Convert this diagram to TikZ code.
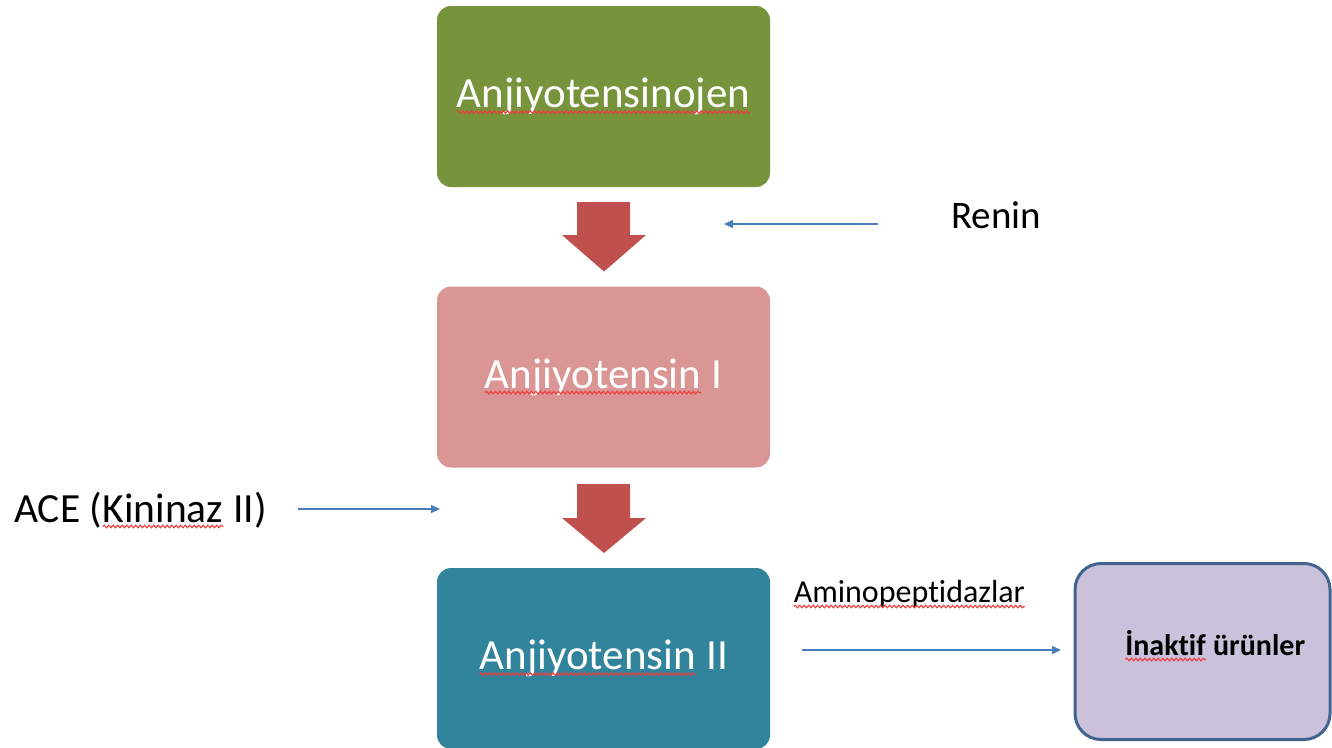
\documentclass[tikz,border=0pt]{standalone}
\usepackage{fontspec}
\setmainfont[Ligatures=NoCommon]{Carlito}
\usetikzlibrary{decorations.pathmorphing,arrows.meta}
\definecolor{cgreen}{HTML}{77933C}
\definecolor{cpink}{HTML}{D99694}
\definecolor{cteal}{HTML}{31849B}
\definecolor{cpurple}{HTML}{CCC1DA}
\definecolor{cborder}{HTML}{41648F}
\definecolor{cred}{HTML}{C0504D}
\definecolor{cblue}{HTML}{4A7EBB}
\definecolor{csquig}{HTML}{F03C3C}
\newcommand{\squig}[1]{\tikz[baseline=(w.base)]{\node[shape=rectangle,inner sep=0pt,outer sep=0pt,minimum width=0pt,minimum height=0pt,draw=none,fill=none,sharp corners](w){#1};\draw[csquig,sharp corners,line width=1.1pt,decorate,decoration={snake,amplitude=1.3pt,segment length=4.5pt}]([yshift=-4.5pt]w.base west)--([yshift=-4.5pt]w.base east);}}
\tikzset{
  box/.style={rounded corners=14pt, minimum width=333pt, minimum height=181pt, inner sep=0pt, text=white, font=\fontsize{43}{50}\selectfont},
  lbl/.style={inner sep=0pt, text=black},
  thin/.style={cblue, line width=1.4pt, -{Triangle[length=9pt,width=8pt]}},
  blockarrow/.style={fill=cred, draw=none}
}
\begin{document}
\begin{tikzpicture}[x=1pt,y=-1pt]
\useasboundingbox (0,0) rectangle (1332,747);
\node[box, fill=cgreen] (ang) at (603.5,96.5) {\squig{Anjiyotensinojen}};
\node[box, fill=cpink] (a1) at (603.5,377) {\squig{Anjiyotensin} I};
\node[box, fill=cteal, minimum height=181pt] (a2) at (603.5,658.5) {\squig{Anjiyotensin} II};
\node[draw=cborder, line width=3pt, fill=cpurple, rounded corners=26pt, minimum width=255pt, minimum height=176pt, inner sep=0pt] (ina) at (1202.5,651.5) {};
\node[lbl, font=\fontsize{30}{36}\selectfont\bfseries, anchor=base] (inatxt) at (1215,655) {\squig{İnaktif} ürünler};
% block arrows
\fill[blockarrow] (577,202) -- (630,202) -- (630,235) -- (646,235) -- (604,271.5) -- (562,235) -- (577,235) -- cycle;
\fill[blockarrow] (577,484) -- (630,484) -- (630,518) -- (646,518) -- (604,553) -- (562,518) -- (577,518) -- cycle;
% labels
\node[lbl, font=\fontsize{39}{46}\selectfont, anchor=base west] (renin) at (951,228) {Renin};
\node[lbl, font=\fontsize{41.5}{48}\selectfont, anchor=base west] (ace) at (14,522) {ACE (\squig{Kininaz} II)};
\node[lbl, font=\fontsize{32}{38}\selectfont, anchor=base west] (amino) at (793,602) {\squig{Aminopeptidazlar}};
% connectors
\coordinate (reninS) at (878,224);
\coordinate (reninE) at (724,224);
\coordinate (aceS) at (298,509);
\coordinate (aceE) at (440,509);
\coordinate (amS) at (802,650);
\coordinate (amE) at (1061,650);
\draw[thin] (reninS) -- (reninE);
\draw[thin] (aceS) -- (aceE);
\draw[thin] (amS) -- (amE);
\end{tikzpicture}
\end{document}
